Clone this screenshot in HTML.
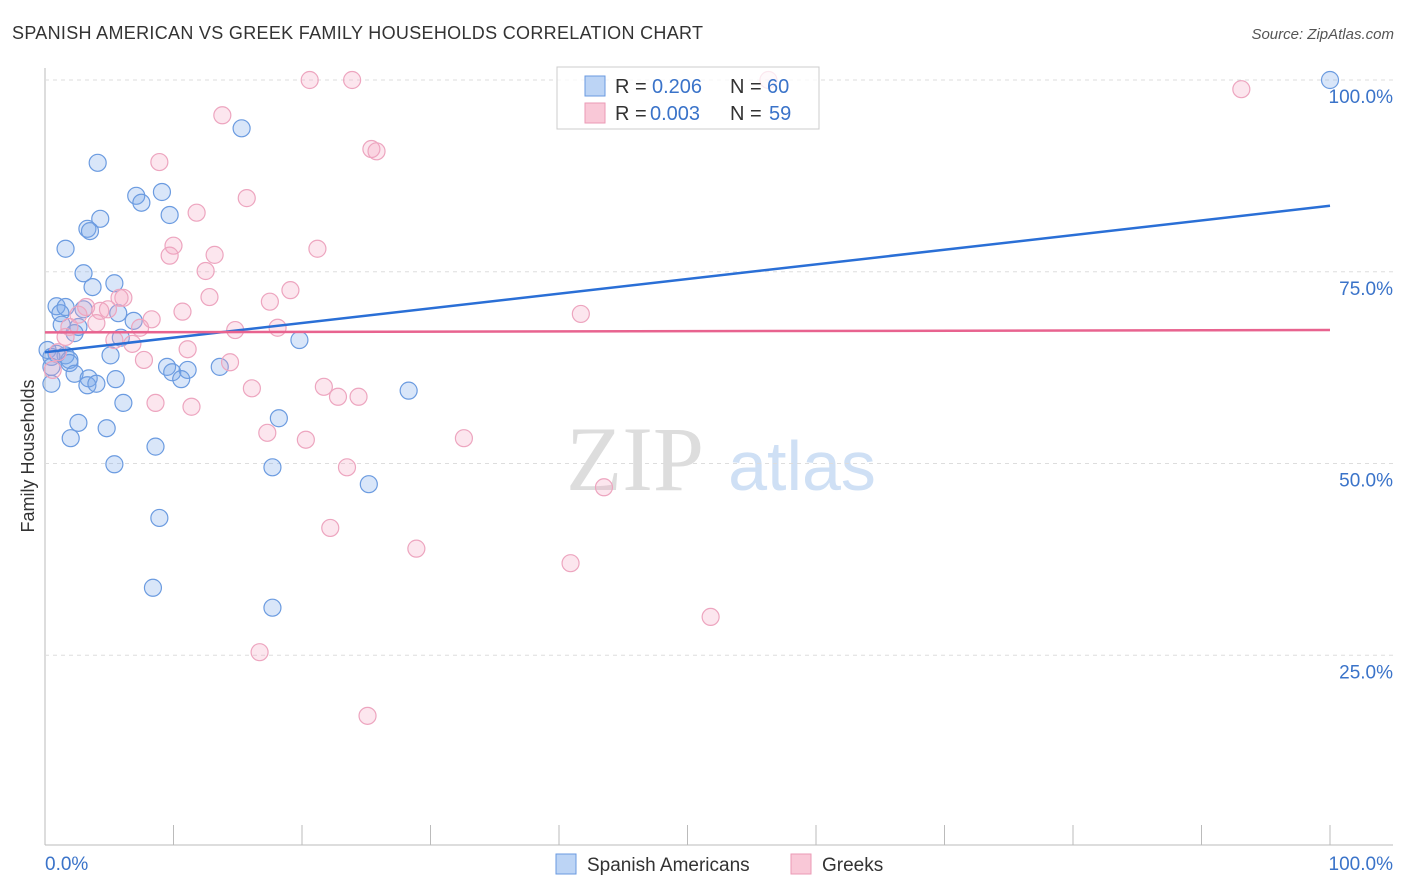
<!DOCTYPE html>
<html><head><meta charset="utf-8"><style>
body{margin:0;background:#fff;font-family:"Liberation Sans",sans-serif}
svg{display:block}
</style></head><body>
<svg id="chart" width="1406" height="892" xmlns="http://www.w3.org/2000/svg">
<text x="12" y="39" font-size="18" fill="#333" textLength="691">SPANISH AMERICAN VS GREEK FAMILY HOUSEHOLDS CORRELATION CHART</text>
<text x="1394" y="39" font-size="15" fill="#555" font-style="italic" text-anchor="end">Source: ZipAtlas.com</text>
<text x="34" y="456" font-size="18" fill="#333" text-anchor="middle" transform="rotate(-90 34 456)">Family Households</text>
<g>
<text x="635" y="490" font-size="92" fill="#ddd" font-family="Liberation Serif" text-anchor="middle">ZIP</text>
<text x="802" y="490" font-size="70" fill="#cfe0f5" text-anchor="middle">atlas</text>
</g>
<g id="grid"></g><g id="marks"></g>
<g>
<rect x="557" y="67" width="262" height="62" fill="rgba(255,255,255,0.75)" stroke="#ccc"/>
<rect x="585" y="76" width="20" height="20" fill="#bcd4f5" stroke="#6a9ae0"/>
<rect x="585" y="103" width="20" height="20" fill="#f9c8d7" stroke="#eb9ab6"/>
<text x="615" y="93" font-size="20" fill="#333">R =</text>
<text x="652" y="93" font-size="20" fill="#3a73c9">0.206</text>
<text x="730" y="93" font-size="20" fill="#333">N =</text>
<text x="767" y="93" font-size="20" fill="#3a73c9">60</text>
<text x="615" y="120" font-size="20" fill="#333">R =</text>
<text x="650" y="120" font-size="20" fill="#3a73c9">0.003</text>
<text x="730" y="120" font-size="20" fill="#333">N =</text>
<text x="769" y="120" font-size="20" fill="#3a73c9">59</text>
</g>
<g>
<rect x="556" y="854" width="20" height="20" fill="#bcd4f5" stroke="#6a9ae0"/>
<text x="587" y="871" font-size="19" fill="#333">Spanish Americans</text>
<rect x="791" y="854" width="20" height="20" fill="#f9c8d7" stroke="#eb9ab6"/>
<text x="822" y="871" font-size="19" fill="#333">Greeks</text>
</g>
</svg>
<script>
const yTicks=[25,50,75,100];
const yTickLabels=["25.0%","50.0%","75.0%","100.0%"];
const xTicks=[0,10,20,30,40,50,60,70,80,90,100];
const blueX=[100,15.3,4.1,7.1,9.1,7.5,9.7,4.3,3.3,3.5,1.6,3.0,5.4,3.7,0.9,1.6,3.0,1.2,5.7,1.3,6.9,2.6,2.3,5.9,19.8,0.2,0.9,1.6,5.1,0.5,1.9,1.9,0.5,9.5,13.6,11.1,9.9,2.3,3.4,5.5,10.6,3.3,4.0,0.5,28.3,6.1,18.2,2.6,4.8,2.0,8.6,5.4,17.7,25.2,8.9,8.4,17.7];
const blueY=[100,93.7,89.2,84.9,85.4,84.0,82.4,81.9,80.6,80.3,78.0,74.8,73.5,73.0,70.5,70.4,70.1,69.6,69.6,68.1,68.6,67.8,67.0,66.4,66.1,64.8,64.3,64.1,64.1,63.9,63.5,63.1,62.6,62.6,62.6,62.2,61.9,61.7,61.1,61.0,61.0,60.2,60.4,60.4,59.5,57.9,55.9,55.3,54.6,53.3,52.2,49.9,49.5,47.3,42.9,33.8,31.2];
const pinkX=[20.6,23.9,56.3,93.1,13.8,25.4,25.8,8.9,15.7,11.8,10.0,9.7,21.2,13.2,12.5,19.1,12.8,6.1,5.8,17.5,3.2,4.9,4.3,10.7,2.6,8.3,41.7,4.0,7.4,1.9,18.1,14.8,1.6,5.4,6.8,11.1,1.0,14.4,7.7,0.6,16.1,21.7,22.8,24.4,8.6,11.4,17.3,20.3,32.6,23.5,43.5,22.2,28.9,40.9,51.8,16.7,25.1];
const pinkY=[100,100,100,98.8,95.4,91.0,90.7,89.3,84.6,82.7,78.4,77.1,78.0,77.2,75.1,72.6,71.7,71.6,71.6,71.1,70.4,70.1,69.9,69.8,69.4,68.8,69.5,68.3,67.7,67.8,67.7,67.4,66.5,66.1,65.6,64.9,64.5,63.2,63.5,62.2,59.8,60.0,58.7,58.7,57.9,57.4,54.0,53.1,53.3,49.5,46.9,41.6,38.9,37.0,30.0,25.4,17.1];
const blueTrend=[64.5,83.6];
const pinkTrend=[67.1,67.4];
const NS="http://www.w3.org/2000/svg";
const sx=v=>45+v*12.85, sy=v=>847-v*7.67;
function mk(t,a,p){const e=document.createElementNS(NS,t);for(const k in a)e.setAttribute(k,a[k]);p.appendChild(e);return e;}
const g=document.getElementById('grid'),m=document.getElementById('marks');
let ax=mk('line',{x1:45,y1:68,x2:45,y2:845,stroke:'#bbb'},g);


let bx=mk('line',{x1:45,y1:845,x2:1393,y2:845,stroke:'#bbb'},g);


yTicks.forEach((t,i)=>{
 let l=mk('line',{x1:45,y1:sy(t),x2:1393,y2:sy(t),stroke:'#ddd','stroke-dasharray':'4,4'},g);
 
 
 let tx=mk('text',{x:1393,y:sy(t)+23,'font-size':19,fill:'#3a73c9','text-anchor':'end'},g);
 tx.textContent=yTickLabels[i];
 
 
});
xTicks.forEach(t=>{
 let l=mk('line',{x1:sx(t),y1:825,x2:sx(t),y2:845,stroke:'#bbb'},g);
 
 
});
let x0=mk('text',{x:45,y:870,'font-size':19,fill:'#3a73c9'},g);x0.textContent='0.0%';


let x1=mk('text',{x:1393,y:870,'font-size':19,fill:'#3a73c9','text-anchor':'end'},g);x1.textContent='100.0%';


blueX.forEach((v,i)=>{
 let c=mk('circle',{cx:sx(v),cy:sy(blueY[i]),r:8.5,fill:'rgba(120,165,235,0.28)',stroke:'#6b9be0','stroke-width':1.2},m);
 
 
});
pinkX.forEach((v,i)=>{
 let c=mk('circle',{cx:sx(v),cy:sy(pinkY[i]),r:8.5,fill:'rgba(245,165,195,0.28)',stroke:'#eda5bf','stroke-width':1.2},m);
 
 
});
let bt=mk('line',{x1:sx(0),y1:sy(blueTrend[0]),x2:sx(100),y2:sy(blueTrend[1]),stroke:'#2a6fd6','stroke-width':2.5},m);


let pt=mk('line',{x1:sx(0),y1:sy(pinkTrend[0]),x2:sx(100),y2:sy(pinkTrend[1]),stroke:'#e8638f','stroke-width':2.5},m);


</script>
</body></html>
